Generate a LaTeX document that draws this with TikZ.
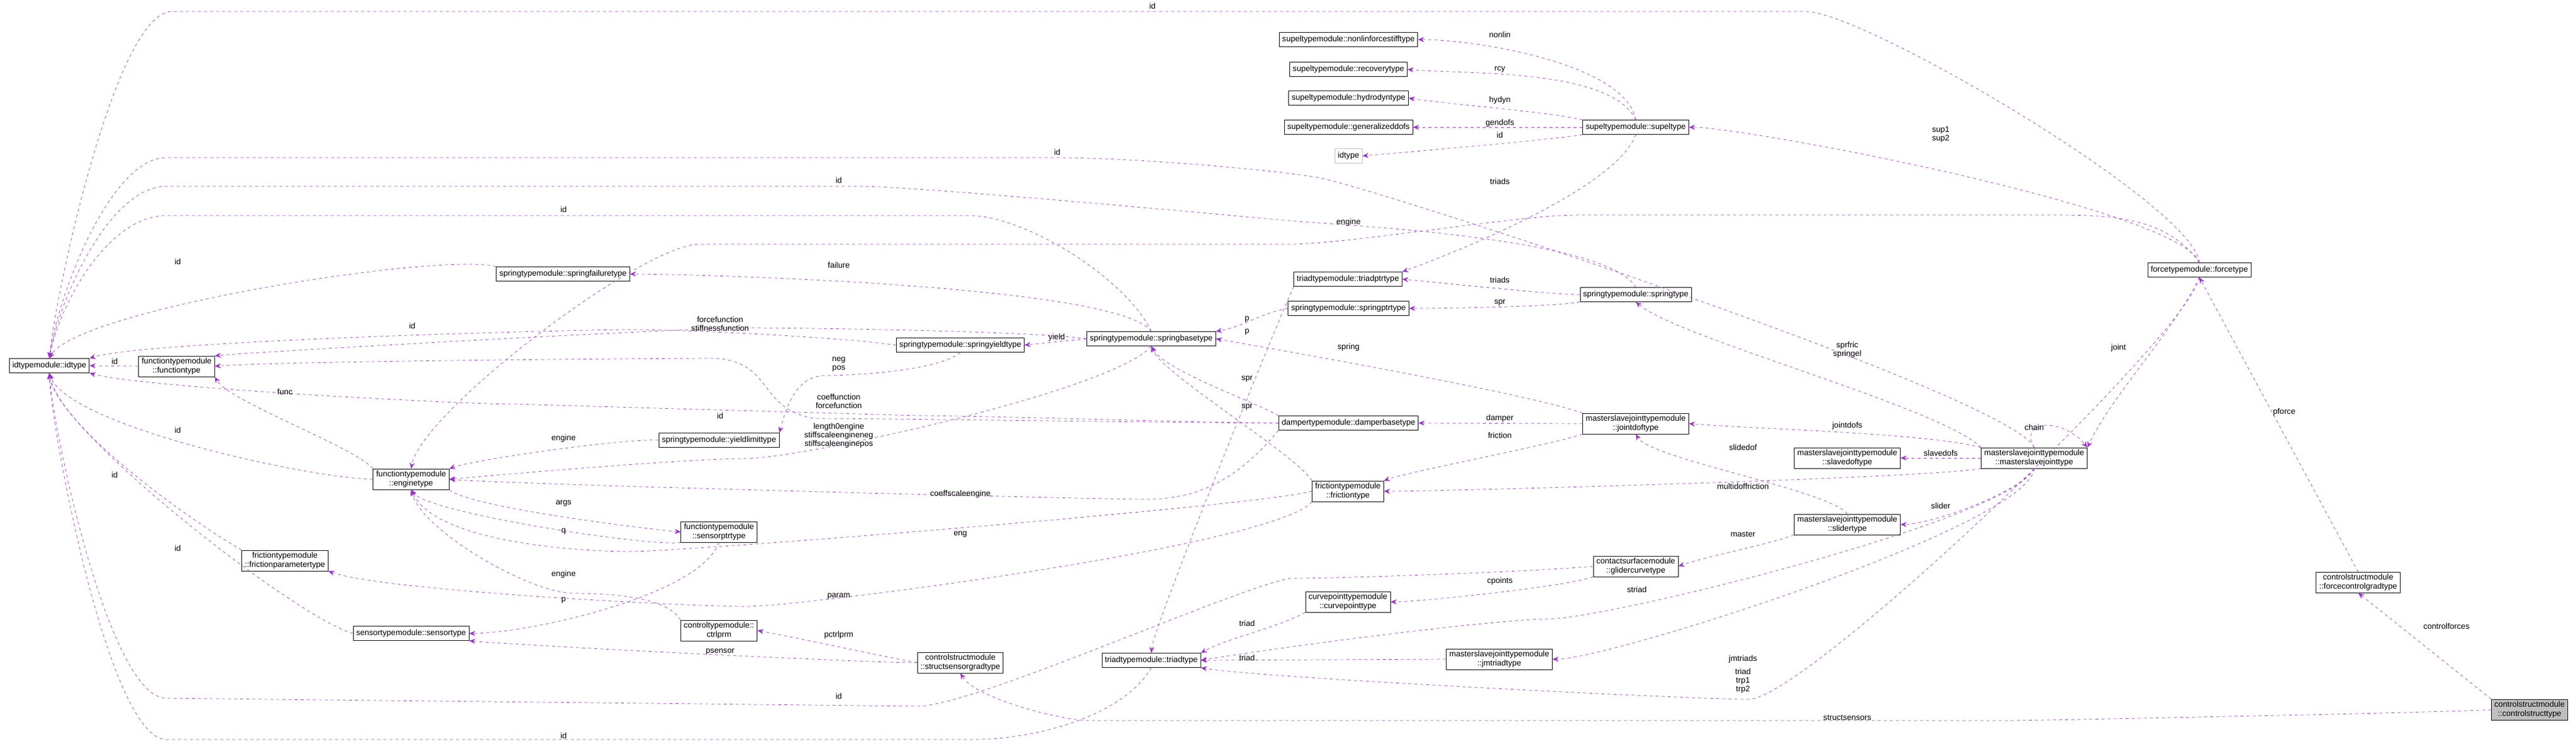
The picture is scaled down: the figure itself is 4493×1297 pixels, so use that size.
\documentclass[tikz,border=0pt]{standalone}
\usepackage{fontspec}
\setmainfont{Liberation Sans}
\usetikzlibrary{arrows.meta}
\definecolor{edgecol}{HTML}{9A32CD}
\tikzset{
  cls/.style = {draw = black, fill = white, font = \fontsize{8}{9}\selectfont, inner xsep = 3pt, inner ysep = 2pt, minimum height = 0.5cm, align = center},
  edge/.style = {draw = edgecol, dashed, distance = 2cm, -{Stealth[length = 6pt, width = 5pt]}},
  lbl/.style = {font = \fontsize{8}{8.5}\selectfont, align = center, inner sep = 0pt}
}
\begin{document}
\begin{tikzpicture}[x=0.2mm,y=0.2mm]
\useasboundingbox (0,0) rectangle (4493,-1297);
% classes on the left
\node[cls] (idt) at (86,-638) {idtypemodule::idtype};
\node[cls] (funct) at (308,-639) {functiontypemodule\\::functiontype};
\node[cls] (sfail) at (982,-478) {springtypemodule::springfailuretype};
\node[cls] (syield) at (1675,-602) {springtypemodule::springyieldtype};
\node[cls] (sbase) at (2008,-591) {springtypemodule::springbasetype};
\node[cls] (ylim) at (1254,-768) {springtypemodule::yieldlimittype};
\node[cls] (eng) at (717,-836) {functiontypemodule\\::enginetype};
\node[cls] (sptr) at (1254,-928) {functiontypemodule\\::sensorptrtype};
\node[cls] (fpar) at (497,-978) {frictiontypemodule\\::frictionparametertype};
\node[cls] (sens) at (717,-1105) {sensortypemodule::sensortype};
\node[cls] (ctrl) at (1254,-1100) {controltypemodule::\\ctrlprm};
\node[cls] (ssg) at (1675,-1156) {controlstructmodule\\::structsensorgradtype};
\node[cls] (triad) at (2008,-1152) {triadtypemodule::triadtype};
% supel members
\foreach \nm/\y/\txt in {nonlin/69/nonlinforcestifftype, rcy/121/recoverytype, hyd/171/hydrodyntype, gdof/222/generalizeddofs}
  \node[cls] (\nm) at (2352,-\y) {supeltypemodule::\txt};
\node[cls, draw = black!25] (idg) at (2352,-272) {idtype};
\node[cls] (supel) at (2853,-222) {supeltypemodule::supeltype};
% middle
\node[cls] (tptr) at (2351,-487) {triadtypemodule::triadptrtype};
\node[cls] (sptrt) at (2352,-538) {springtypemodule::springptrtype};
\node[cls] (stype) at (2853,-514) {springtypemodule::springtype};
\node[cls] (damp) at (2352,-738) {dampertypemodule::damperbasetype};
\node[cls] (fric) at (2351,-857) {frictiontypemodule\\::frictiontype};
\node[cls] (jdof) at (2853,-739) {masterslavejointtypemodule\\::jointdoftype};
\node[cls] (sdof) at (3222,-799) {masterslavejointtypemodule\\::slavedoftype};
\node[cls] (msj) at (3548,-799) {masterslavejointtypemodule\\::masterslavejointtype};
\node[cls] (slid) at (3222,-915) {masterslavejointtypemodule\\::slidertype};
\node[cls] (glid) at (2853,-988) {contactsurfacemodule\\::glidercurvetype};
\node[cls] (cpt) at (2351,-1050) {curvepointtypemodule\\::curvepointtype};
\node[cls] (jmt) at (2615,-1150) {masterslavejointtypemodule\\::jmtriadtype};
% right
\node[cls] (force) at (3836,-471) {forcetypemodule::forcetype};
\node[cls] (fcg) at (4113,-1016) {controlstructmodule\\::forcecontrolgradtype};
\node[cls, fill = black!25] (cst) at (4412,-1238) {controlstructmodule\\::controlstructtype};

% connectors into idtype
\draw[edge] (force.north) to[out=95,in=0] (3150,-20) -- (300,-20) to[out=180,in=85] (idt.north);
\draw[edge] (msj.north) to[out=115,in=-10] (2300,-310) to[out=170,in=0] (1850,-275) -- (290,-275) to[out=180,in=83] (idt.north);
\draw[edge] (stype.north) to[out=120,in=-5] (2250,-385) to[out=175,in=0] (1500,-325) -- (290,-325) to[out=180,in=81] (idt.north);
\draw[edge] (sbase.north) to[out=115,in=0] (1690,-376) -- (290,-376) to[out=180,in=79] (idt.north);
\draw[edge] (sfail.north west) to[out=165,in=60] (idt.north);
\draw[edge] (syield.west) to[out=172,in=0] (1100,-575) to[out=180,in=18] (idt.north east);
\draw[edge] (damp.west) to[out=180,in=0] (1600,-725) -- (900,-705) to[out=180,in=-15] (idt.south east);
\draw[edge] (eng.west) to[out=180,in=-70] (idt.south);
\draw[edge] (fpar.north west) to[out=150,in=-78] (idt.south);
\draw[edge] (sens.west) to[out=165,in=-84] (idt.south);
\draw[edge] (glid.west) to[out=185,in=0] (2250,-1009) to[out=190,in=0] (1600,-1232) -- (290,-1218) to[out=180,in=-86] (idt.south);
\draw[edge] (triad.south) to[out=-120,in=0] (1700,-1290) -- (290,-1290) to[out=180,in=-88] (idt.south);
\draw[edge] (funct.west) -- (idt.east);
% functions and engines
\draw[edge] (sbase.west) to[out=172,in=0] (1300,-572) to[out=180,in=5] (funct.north east);
\draw[edge] (damp.west) to[out=180,in=0] (1420,-730) to[out=170,in=-5] (1250,-625) to[out=180,in=5] (funct.east);
\draw[edge] (eng.north west) to[out=130,in=-60,distance=1cm] (funct.south east);
\draw[edge] (force.north) to[out=125,in=0] (3576,-375) -- (2750,-375) to[out=180,in=0] (2250,-426) -- (1220,-426) to[out=180,in=80] (eng.north);
\draw[edge] (ylim.west) to[out=175,in=20,distance=1cm] (eng.north east);
\draw[edge] (sbase.south) to[out=-130,in=0] (1300,-800) to[out=180,in=5] (eng.east);
\draw[edge] (damp.south west) to[out=-130,in=0] (2000,-871) to[out=180,in=-5] (eng.east);
\draw[edge] (eng.south east) to[out=-40,in=175,distance=1cm] (sptr.west);
\draw[edge] (sptr.south west) to[out=-170,in=-55,distance=1cm] (eng.south);
\draw[edge] (fric.west) to[out=-165,in=0] (1100,-962) to[out=180,in=-65] (eng.south);
\draw[edge] (ctrl.north west) to[out=120,in=0,distance=1cm] (1000,-1035) to[out=180,in=-75,distance=1.5cm] (eng.south);
% springs
\draw[edge] (sbase.north) to[out=125,in=0] (sfail.east);
\draw[edge] (sbase.west) -- (syield.east);
\draw[edge] (syield.south) to[out=-140,in=0,distance=1cm] (1440,-655) to[out=180,in=75,distance=1cm] (ylim.north east);
\draw[edge] (sptrt.west) to[out=190,in=10,distance=1cm] (sbase.north east);
\draw[edge] (damp.north west) to[out=150,in=-60,distance=1cm] (sbase.south);
\draw[edge] (fric.north west) to[out=120,in=-70,distance=1cm] (sbase.south);
\draw[edge] (jdof.north west) to[out=160,in=-10] (sbase.east);
\draw[edge] (tptr.south west) to[out=-115,in=85,distance=1cm] (triad.north);
\draw[edge] (fric.south west) to[out=-130,in=0] (1300,-1058) to[out=180,in=-20] (fpar.south east);
\draw[edge] (sptr.south) to[out=-110,in=0] (sens.east);
\draw[edge] (ssg.west) to[out=170,in=-10,distance=1cm] (ctrl.east);
\draw[edge] (ssg.west) to[out=180,in=-5] (sens.south east);
% supel
\draw[edge] (supel.north) to[out=100,in=0] (nonlin.east);
\draw[edge] (supel.north) to[out=115,in=-5] (rcy.east);
\draw[edge] (supel.north west) to[out=165,in=-10,distance=1cm] (hyd.east);
\draw[edge] (supel.west) -- (gdof.east);
\draw[edge] (supel.south west) to[out=190,in=5,distance=1cm] (idg.east);
\draw[edge] (supel.south) to[out=-110,in=20] (tptr.north east);
\draw[edge] (force.north) to[out=110,in=0] (supel.east);
% joints
\draw[edge] (stype.west) to[out=180,in=-5,distance=1cm] (tptr.east);
\draw[edge] (stype.south west) to[out=-170,in=0,distance=1cm] (sptrt.east);
\draw[edge] (jdof.west) -- (damp.east);
\draw[edge] (jdof.south west) to[out=-160,in=20,distance=1cm] (fric.north east);
\draw[edge] (msj.north west) to[out=135,in=-40] (stype.south);
\draw[edge] (msj.north west) to[out=165,in=-5] (jdof.east);
\draw[edge] (msj.west) -- (sdof.east);
\draw[edge] (msj.north) .. controls (3520,-730) and (3600,-730) .. (msj.north east);
\draw[edge] (force.south) to[out=-115,in=65] (msj.north east);
\draw[edge] (slid.north) to[out=125,in=-60,distance=1cm] (jdof.south);
\draw[edge] (msj.south west) to[out=190,in=0] (fric.east);
\draw[edge] (msj.south) to[out=-120,in=0,distance=1cm] (slid.east);
\draw[edge] (slid.south west) to[out=-160,in=20,distance=1cm] (glid.east);
\draw[edge] (glid.south west) to[out=-160,in=0,distance=1cm] (cpt.east);
\draw[edge] (msj.south) to[out=-115,in=0] (2700,-1080) to[out=180,in=10] (triad.east);
\draw[edge] (cpt.south west) to[out=-150,in=30,distance=1cm] (triad.north east);
\draw[edge] (jmt.west) -- (triad.east);
\draw[edge] (msj.south) to[out=-95,in=0] (jmt.east);
\draw[edge] (force.south) to[out=-100,in=0] (3050,-1220) to[out=180,in=-10] (triad.south east);
\draw[edge] (fcg.north) -- (force.south);
\draw[edge] (cst.north west) -- (fcg.south);
\draw[edge] (cst.west) to[out=185,in=0,distance=1cm] (3500,-1257) -- (1900,-1257) to[out=180,in=-60,distance=1cm] (ssg.south);

% connector labels
\foreach \nm/\x/\y/\txt in {
  l1/2010/10/id, l2/1844/265/id, l3/1463/314/id, l4/983/365/id, l5/310/456/id,
  l6/1463/462/failure, l7/1256/565/{forcefunction\\stiffnessfunction}, l8/719/568/id,
  l9/1843/589/yield, l10/1463/636/{neg\\pos}, l11/1463/700/{coeffunction\\forcefunction},
  l12/1256/725/id, l13/983/765/engine, l14/1463/760/{length0engine\\stiffscaleengineneg\\stiffscaleenginepos},
  l15/497/683/func, l16/310/750/id, l17/1675/862/coeffscaleengine, l18/983/878/args,
  l19/983/927/q, l20/1675/932/eng, l21/200/828/id, l22/310/956/id, l23/983/1002/engine,
  l24/1463/1040/param, l25/983/1047/p, l26/1463/1108/pctrlprm, l27/1256/1137/psensor,
  l28/1463/1214/id, l29/983/1283/id, l30/2175/557/p, l31/2175/579/p, l32/2175/661/spr,
  l33/2175/710/spr, l34/2352/606/spring, l35/2616/488/triads, l36/2616/528/spr,
  l37/2616/730/damper, l38/2616/759/friction, l39/3222/610/{sprfric\\springel},
  l40/3222/743/jointdofs, l41/3385/790/slavedofs, l42/3548/745/chain, l43/3695/607/joint,
  l44/3040/780/slidedof, l45/3040/848/multidoffriction, l46/3385/882/slider,
  l47/3040/932/master, l48/2616/1014/cpoints, l49/2855/1028/striad, l50/2175/1087/triad,
  l51/2175/1147/triad, l52/3040/1150/jmtriads, l53/3040/1188/{triad\\trp1\\trp2},
  l54/3984/719/pforce, l55/4267/1092/controlforces, l56/3222/1252/structsensors,
  l57/2616/60/nonlin, l58/2616/121/rcy, l59/2616/175/hydyn, l60/2616/215/gendofs,
  l61/2616/235/id, l62/2616/316/triads, l63/2352/388/engine, l64/3385/235/{sup1\\sup2},
  l65/200/630/id}
  \node[lbl] (\nm) at (\x,-\y) {\txt};
\end{tikzpicture}
\end{document}
